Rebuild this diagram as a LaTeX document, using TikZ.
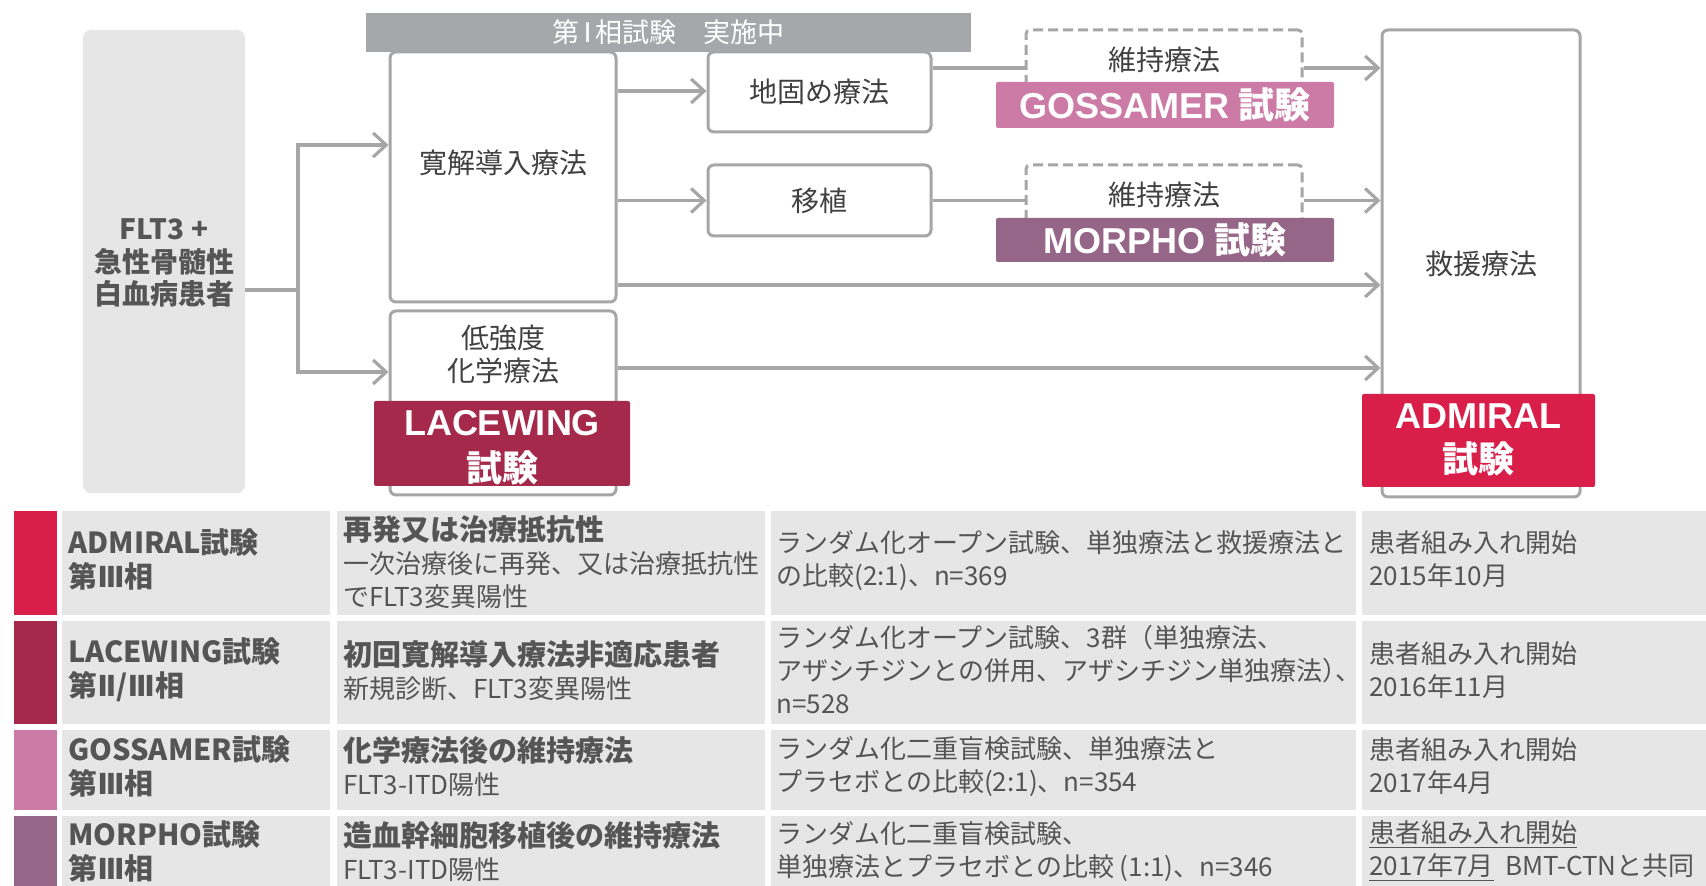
\documentclass[tikz,border=0pt]{standalone}
\usepackage{fontspec}
\setmainfont{Noto Sans CJK JP}
\newfontfamily\lat{Liberation Sans}
\newfontfamily\djv{DejaVu Sans}
\newcommand{\fwd}[1]{{\djv #1}}
\usetikzlibrary{arrows.meta}
\definecolor{lgray}{HTML}{A6A6A6}
\definecolor{hgray}{HTML}{A6A7AA}
\definecolor{fgray}{HTML}{E6E6E6}
\definecolor{cgray}{HTML}{E6E6E6}
\definecolor{dtext}{HTML}{404040}
\definecolor{mtext}{HTML}{555555}
\definecolor{cadm}{HTML}{D91E49}
\definecolor{clac}{HTML}{A5294A}
\definecolor{cgos}{HTML}{CC7AA6}
\definecolor{cmor}{HTML}{966688}
\begin{document}
\begin{tikzpicture}[x=0.5pt,y=-0.5pt,
  box/.style={draw=lgray,line width=1.5pt,rounded corners=3pt,fill=white,inner sep=0pt},
  dbox/.style={draw=lgray,line width=1.5pt,dash pattern=on 5pt off 2.5pt,rounded corners=2pt,fill=white,inner sep=0pt},
  lab/.style={text=white,inner sep=0pt,align=center,rounded corners=1pt,font=\fontsize{18}{22}\selectfont\bfseries},
  conn/.style={draw=lgray,line width=1.6pt},
  arr/.style={conn,-{Straight Barb[length=6.5pt,width=12pt]}},
  dtxt/.style={text=dtext,inner sep=0pt,align=center,font=\fontsize{14}{16.5}\selectfont},
  cell/.style={fill=cgray,inner sep=0pt,anchor=north west},
  bar/.style={inner sep=0pt,anchor=north west,minimum width=21.5pt},
  ttl/.style={text=mtext,inner sep=0pt,anchor=west,align=left,font=\fontsize{14.5}{17}\selectfont\bfseries},
  body/.style={text=mtext,inner sep=0pt,anchor=west,align=left,font=\fontsize{13}{16.5}\selectfont}
]
\useasboundingbox (0,0) rectangle (1706,886);

% ---------- flow diagram ----------
\node[fill=fgray,rounded corners=4pt,minimum width=81pt,minimum height=231.5pt,inner sep=0pt] (pt) at (164,261.5) {};
\node[dtxt,text=mtext,font=\fontsize{14}{16.25}\selectfont\bfseries] (ptt) at (164,263) {FLT3 +\\急性骨髄性\\白血病患者};

\node[box,minimum width=113pt,minimum height=125pt] (ind) at (503,177) {};
\node[box,minimum width=113pt,minimum height=92pt] (low) at (503,403) {};
\node[box,dtxt,minimum width=111.5pt,minimum height=40pt] (con) at (819.5,92) {地固め療法};
\node[fill=hgray,text=white,minimum width=302.5pt,minimum height=19.5pt,inner sep=0pt,font=\fontsize{13.5}{16}\selectfont] (hdr) at (668.5,32.5) {第\hspace{2pt}\fwd{Ⅰ}\hspace{2pt}相試験　実施中};
\node[dtxt] (indt) at (503,163) {寛解導入療法};
\node[dtxt] (lowt) at (503,354.5) {低強度\\化学療法};
\node[fill=clac,rounded corners=1pt,minimum width=128pt,minimum height=42.5pt,inner sep=0pt] (lac) at (502,443.5) {};
\node[lab,font=\fontsize{18}{23}\selectfont\bfseries] (lact) at (502,447.6) {{\lat LACEWING}\\試験};

\node[box,dtxt,minimum width=111.5pt,minimum height=35.5pt] (tra) at (819.5,200.5) {移植};
\node[dbox,dtxt,minimum width=138pt,minimum height=30pt] (m1) at (1164,60) {維持療法};
\node[lab,fill=cgos,minimum width=169pt,minimum height=23pt] (gos) at (1165,105) {{\lat GOSSAMER} 試験};
\node[dbox,dtxt,minimum width=138pt,minimum height=30pt] (m2) at (1164,195) {維持療法};
\node[lab,fill=cmor,minimum width=169pt,minimum height=22pt] (mor) at (1165,240) {{\lat MORPHO} 試験};

\node[box,dtxt,minimum width=99pt,minimum height=233.5pt] (sal) at (1481,263.5) {救援療法};
\node[fill=cadm,rounded corners=1pt,minimum width=116.5pt,minimum height=46.5pt,inner sep=0pt] (adm) at (1478.5,440.5) {};
\node[lab] (admt) at (1478.5,439.6) {{\lat ADMIRAL}\\試験};

% connectors
\coordinate (sp) at (298,290);
\draw[conn] (pt.east |- sp) -- (sp);
\draw[arr] (sp) |- (ind.west |- 0,145);
\draw[arr] (sp) |- (low.west |- 0,372);
\draw[arr] (ind.east |- 0,91) -- (con.west |- 0,91);
\draw[arr] (ind.east |- tra.west) -- (tra.west);
\draw[arr] (ind.east |- 0,285) -- (sal.west |- 0,285);
\draw[arr] (low.east |- 0,368) -- (sal.west |- 0,368);
\draw[conn] (con.east |- 0,68) -- (m1.west |- 0,68);
\draw[arr] (m1.east |- 0,68) -- (sal.west |- 0,68);
\draw[conn] (tra.east) -- (m2.west |- tra.east);
\draw[arr] (m2.east |- tra.east) -- (sal.west |- tra.east);

% ---------- table ----------
\node[bar,fill=cadm,minimum height=52pt] (b1) at (14,511) {};
\node[bar,fill=clac,minimum height=51.5pt] (b2) at (14,621) {};
\node[bar,fill=cgos,minimum height=40pt] (b3) at (14,730) {};
\node[bar,fill=cmor,minimum height=35pt] (b4) at (14,816) {};

\node[cell,minimum width=134pt,minimum height=52pt] (r1a) at (62,511) {};
\node[cell,minimum width=214pt,minimum height=52pt] (r1b) at (337,511) {};
\node[cell,minimum width=292.5pt,minimum height=52pt] (r1c) at (771,511) {};
\node[cell,minimum width=172pt,minimum height=52pt] (r1d) at (1362,511) {};

\node[cell,minimum width=134pt,minimum height=51.5pt] (r2a) at (62,621) {};
\node[cell,minimum width=214pt,minimum height=51.5pt] (r2b) at (337,621) {};
\node[cell,minimum width=292.5pt,minimum height=51.5pt] (r2c) at (771,621) {};
\node[cell,minimum width=172pt,minimum height=51.5pt] (r2d) at (1362,621) {};

\node[cell,minimum width=134pt,minimum height=40pt] (r3a) at (62,730) {};
\node[cell,minimum width=214pt,minimum height=40pt] (r3b) at (337,730) {};
\node[cell,minimum width=292.5pt,minimum height=40pt] (r3c) at (771,730) {};
\node[cell,minimum width=172pt,minimum height=40pt] (r3d) at (1362,730) {};

\node[cell,minimum width=134pt,minimum height=35pt] (r4a) at (62,816) {};
\node[cell,minimum width=214pt,minimum height=35pt] (r4b) at (337,816) {};
\node[cell,minimum width=292.5pt,minimum height=35pt] (r4c) at (771,816) {};
\node[cell,minimum width=172pt,minimum height=35pt] (r4d) at (1362,816) {};

% row 1
\node[ttl] (t1a) at (68,559.5) {ADMIRAL試験\\第\fwd{Ⅲ}相};
\node[body] (t1b) at (343,562) {{\fontsize{14.5}{17}\selectfont\bfseries 再発又は治療抵抗性}\\一次治療後に再発、又は治療抵抗性\\でFLT3変異陽性};
\node[body] (t1c) at (776,560.5) {ランダム化オープン試験、単独療法と救援療法と\\の比較(2:1)、n=369};
\node[body] (t1d) at (1369,559.5) {患者組み入れ開始\\2015年10月};
% row 2
\node[ttl] (t2a) at (68,670) {LACEWING試験\\第\fwd{Ⅱ}/\fwd{Ⅲ}相};
\node[body] (t2b) at (343,670.5) {{\fontsize{14.5}{17}\selectfont\bfseries 初回寛解導入療法非適応患者}\\新規診断、FLT3変異陽性};
\node[body] (t2c) at (776,669.5) {ランダム化オープン試験、3群（単独療法、\\アザシチジンとの併用、アザシチジン単独療法{\addfontfeature{RawFeature=+halt}）、}\\n=528};
\node[body] (t2d) at (1369,670.5) {患者組み入れ開始\\2016年11月};
% row 3
\node[ttl] (t3a) at (68,766.5) {GOSSAMER試験\\第\fwd{Ⅲ}相};
\node[body] (t3b) at (343,766.3) {{\fontsize{14.5}{17}\selectfont\bfseries 化学療法後の維持療法}\\FLT3-ITD陽性};
\node[body] (t3c) at (776,766.5) {ランダム化二重盲検試験、単独療法と\\プラセボとの比較(2:1)、n=354};
\node[body] (t3d) at (1369,766.5) {患者組み入れ開始\\2017年4月};
% row 4
\node[ttl] (t4a) at (68,851.5) {MORPHO試験\\第\fwd{Ⅲ}相};
\node[body] (t4b) at (343,851.3) {{\fontsize{14.5}{17}\selectfont\bfseries 造血幹細胞移植後の維持療法}\\FLT3-ITD陽性};
\node[body] (t4c) at (776,851.5) {ランダム化二重盲検試験、\\単独療法とプラセボとの比較 (1:1)、n=346};
\node[body] (t4d) at (1369,851.5) {\underline{患者組み入れ開始}\\\underline{2017年7月}\hspace{6pt}BMT-CTNと共同};
\end{tikzpicture}
\end{document}
